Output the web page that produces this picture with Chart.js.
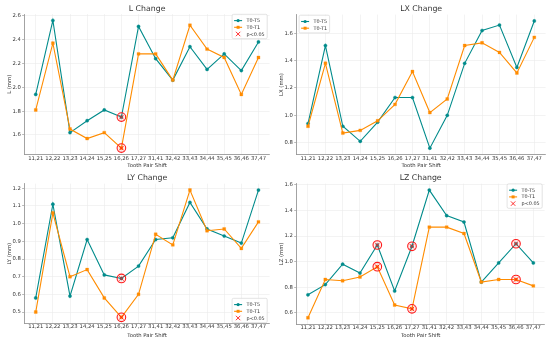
<!DOCTYPE html>
<html><head><meta charset="utf-8">
<script src="https://cdn.jsdelivr.net/npm/chart.js@4.4.0/dist/chart.umd.min.js"></script>
<style>
html,body{margin:0;padding:0;background:#fff;}
#wrap{position:relative;width:550px;height:342px;overflow:hidden;}
.panel{position:absolute;width:275px;height:171px;}
canvas{display:block;}
</style></head><body>
<div id="wrap">
<div class="panel" style="left:0;top:0"><canvas id="c1" width="275" height="171"></canvas></div>
<div class="panel" style="left:275px;top:0"><canvas id="c2" width="275" height="171"></canvas></div>
<div class="panel" style="left:0;top:171px"><canvas id="c3" width="275" height="171"></canvas></div>
<div class="panel" style="left:275px;top:171px"><canvas id="c4" width="275" height="171"></canvas></div>
</div>
<script>
// ---------- data ----------
const categories = ["11,21","12,22","13,23","14,24","15,25","16,26","17,27","31,41","32,42","33,43","34,44","35,45","36,46","37,47"];

const L_T0T5 = [1.94, 2.56, 1.62, 1.72, 1.81, 1.75, 2.51, 2.24, 2.06, 2.34, 2.15, 2.28, 2.14, 2.38];
const L_T0T1 = [1.81, 2.37, 1.65, 1.57, 1.62, 1.49, 2.28, 2.28, 2.06, 2.52, 2.32, 2.25, 1.94, 2.25];
const L_sig  = [5];
const L_ticks = [1.6, 1.8, 2.0, 2.2, 2.4, 2.6];

const LX_T0T5 = [0.94, 1.51, 0.92, 0.81, 0.95, 1.13, 1.13, 0.76, 1.00, 1.38, 1.62, 1.66, 1.35, 1.69];
const LX_T0T1 = [0.92, 1.38, 0.87, 0.89, 0.96, 1.08, 1.32, 1.02, 1.12, 1.51, 1.53, 1.46, 1.31, 1.57];
const LX_sig  = [];
const LX_ticks = [0.8, 1.0, 1.2, 1.4, 1.6];

const LY_T0T5 = [0.58, 1.11, 0.59, 0.91, 0.71, 0.69, 0.76, 0.91, 0.92, 1.12, 0.97, 0.93, 0.89, 1.19];
const LY_T0T1 = [0.50, 1.06, 0.70, 0.74, 0.58, 0.47, 0.60, 0.94, 0.88, 1.19, 0.96, 0.97, 0.86, 1.01];
const LY_sig  = [5];
const LY_ticks = [0.5, 0.6, 0.7, 0.8, 0.9, 1.0, 1.1, 1.2];

const LZ_T0T5 = [0.74, 0.82, 0.98, 0.91, 1.13, 0.77, 1.12, 1.56, 1.36, 1.31, 0.84, 0.99, 1.14, 0.99];
const LZ_T0T1 = [0.56, 0.86, 0.85, 0.88, 0.96, 0.66, 0.63, 1.27, 1.27, 1.22, 0.84, 0.86, 0.86, 0.81];
const LZ_sig  = [4, 6, 12];
const LZ_ticks = [0.6, 0.8, 1.0, 1.2, 1.4, 1.6];

const seriesNames = ["T0-T5", "T0-T1"];
const sigName = "p<0.05";

// ---------- style ----------
const FONT = "'DejaVu Sans', sans-serif";
const TEAL = "#008b8b";
const ORANGE = "#ff8c00";
const RED = "#ff1a1a";
const TXT = "#333333";

const panelPlugin = {
  id: 'panelDeco',
  afterDatasetsDraw(chart, args, opts) {
    const ctx = chart.ctx, a = chart.chartArea;
    ctx.save();
    // title
    ctx.fillStyle = TXT;
    ctx.font = "7.8px " + FONT;
    ctx.textAlign = 'center';
    ctx.textBaseline = 'middle';
    ctx.fillText(opts.title, (a.left + a.right) / 2, opts.titleY);
    // legend
    const items = opts.items;
    ctx.font = "4.9px " + FONT;
    let tw = 0;
    items.forEach(it => { tw = Math.max(tw, ctx.measureText(it.label).width); });
    const rowH = 6.7;
    const boxW = 2 + 8 + 4.5 + tw + 2.5;
    const boxH = items.length * rowH + 4.3;
    let bx, by;
    if (opts.corner === 'tr') { bx = a.right - 2.4 - boxW; by = a.top + 0.2; }
    else if (opts.corner === 'tl') { bx = a.left + 2.4; by = a.top + 0.6; }
    else { bx = a.right - 2.4 - boxW; by = a.bottom - 1 - boxH; }
    ctx.fillStyle = 'rgba(255,255,255,0.85)';
    ctx.strokeStyle = '#d0d0d0';
    ctx.lineWidth = 0.6;
    ctx.beginPath();
    if (ctx.roundRect) ctx.roundRect(bx, by, boxW, boxH, 1.5); else ctx.rect(bx, by, boxW, boxH);
    ctx.fill(); ctx.stroke();
    items.forEach((it, i) => {
      const cy = by + 6.3 + i * rowH;
      const x0 = bx + 2, x1 = bx + 10, cx = (x0 + x1) / 2;
      if (it.kind !== 'x') {
        ctx.strokeStyle = it.color; ctx.lineWidth = 1.1;
        ctx.beginPath(); ctx.moveTo(x0, cy); ctx.lineTo(x1, cy); ctx.stroke();
        ctx.fillStyle = it.color;
        ctx.beginPath();
        if (it.kind === 'circle') ctx.arc(cx, cy, 1.6, 0, Math.PI * 2);
        else ctx.rect(cx - 1.5, cy - 1.5, 3, 3);
        ctx.fill();
      } else {
        ctx.strokeStyle = RED; ctx.lineWidth = 0.9;
        const r = 2.2;
        ctx.beginPath();
        ctx.moveTo(cx - r, cy - r); ctx.lineTo(cx + r, cy + r);
        ctx.moveTo(cx - r, cy + r); ctx.lineTo(cx + r, cy - r);
        ctx.stroke();
      }
      ctx.fillStyle = TXT;
      ctx.textAlign = 'left';
      ctx.textBaseline = 'middle';
      ctx.fillText(it.label, bx + 14.5, cy + 0.3);
    });
    ctx.restore();
  }
};

function makePanel(id, title, yLabel, s1, s2, sig, yTicks, lay) {
  const all = s1.concat(s2);
  const lo = Math.min(...all), hi = Math.max(...all);
  const pad = 0.05 * (hi - lo);
  const xy = arr => arr.map((v, i) => ({x: i, y: v}));
  const sigPts = sig.map(i => ({x: i, y: s1[i]})).concat(sig.map(i => ({x: i, y: s2[i]})));
  const items = [
    {label: seriesNames[0], kind: 'circle', color: TEAL},
    {label: seriesNames[1], kind: 'rect', color: ORANGE}
  ];
  if (sig.length) items.push({label: sigName, kind: 'x'});
  const tickFont = {family: FONT, size: 5.3};
  new Chart(document.getElementById(id), {
    type: 'scatter',
    data: {
      datasets: [
        {label: seriesNames[0], data: xy(s1), showLine: true, borderColor: TEAL, backgroundColor: TEAL,
         borderWidth: 1.1, pointStyle: 'circle', pointRadius: 1.6, pointBorderWidth: 0.4, order: 3},
        {label: seriesNames[1], data: xy(s2), showLine: true, borderColor: ORANGE, backgroundColor: ORANGE,
         borderWidth: 1.1, pointStyle: 'rect', pointRadius: 2.1, pointBorderWidth: 0.3, order: 2},
        {label: 'ring', data: sigPts, showLine: false, borderColor: RED, backgroundColor: 'rgba(255,0,0,0.06)',
         pointStyle: 'circle', pointRadius: 4.3, pointBorderWidth: 1.1, order: 1},
        {label: sigName, data: sigPts, showLine: false, borderColor: RED, backgroundColor: RED,
         pointStyle: 'crossRot', pointRadius: 3.2, pointBorderWidth: 0.9, order: 0}
      ]
    },
    options: {
      responsive: false, animation: false,
      layout: {padding: {top: lay.top, bottom: lay.bottom, left: 0, right: lay.right}},
      plugins: {
        legend: {display: false}, tooltip: {enabled: false}, title: {display: false},
        panelDeco: {title: title, titleY: lay.titleY, corner: lay.corner, items: items}
      },
      scales: {
        x: {
          type: 'linear', min: -0.65, max: 13.65,
          afterBuildTicks: s => { s.ticks = categories.map((_, i) => ({value: i})); },
          afterFit: s => { s.height = lay.xH; },
          ticks: {callback: v => categories[v], font: tickFont, color: TXT, padding: lay.xPad,
                  maxRotation: 0, minRotation: 0, autoSkip: false},
          grid: {color: '#ebebeb', lineWidth: 0.6, drawTicks: false},
          border: {color: '#8c8c8c', width: 0.8},
          title: {display: true, text: 'Tooth Pair Shift', font: {family: FONT, size: 5.3}, color: TXT, padding: 0}
        },
        y: {
          type: 'linear', min: lo - pad, max: hi + pad,
          afterBuildTicks: s => { s.ticks = yTicks.map(v => ({value: v})); },
          afterFit: s => { s.width = lay.yW; },
          ticks: {callback: v => v.toFixed(1), font: tickFont, color: TXT, padding: 1.3},
          grid: {color: '#ebebeb', lineWidth: 0.6, drawTicks: true, tickLength: 2.5, tickColor: '#8c8c8c', tickWidth: 0.6},
          border: {color: '#8c8c8c', width: 0.8},
          title: {display: true, text: yLabel, font: {family: FONT, size: 5.3}, color: TXT, padding: {top: lay.yTitlePad, bottom: 0}}
        }
      }
    },
    plugins: [panelPlugin]
  });
}

makePanel('c1', 'L Change', 'L (mm)', L_T0T5, L_T0T1, L_sig, L_ticks,
  {top: 14.1, bottom: 2.1, right: 0.6, yW: 24.6, xH: 14.4, xPad: 1.2, titleY: 8.5, corner: 'tr', yTitlePad: 6});
makePanel('c2', 'LX Change', 'LX (mm)', LX_T0T5, LX_T0T1, LX_sig, LX_ticks,
  {top: 14.6, bottom: 2.1, right: 3.6, yW: 21.7, xH: 14.4, xPad: 1.0, titleY: 8.5, corner: 'tl', yTitlePad: 3.5});
makePanel('c3', 'LY Change', 'LY (mm)', LY_T0T5, LY_T0T1, LY_sig, LY_ticks,
  {top: 12.7, bottom: 3.5, right: 0.6, yW: 24.6, xH: 14.8, xPad: 0.2, titleY: 7, corner: 'br', yTitlePad: 6});
makePanel('c4', 'LZ Change', 'LZ (mm)', LZ_T0T5, LZ_T0T1, LZ_sig, LZ_ticks,
  {top: 12.7, bottom: 3.5, right: 3.6, yW: 21.7, xH: 14.3, xPad: 0.0, titleY: 7, corner: 'tr', yTitlePad: 3.5});
</script>
</body></html>
